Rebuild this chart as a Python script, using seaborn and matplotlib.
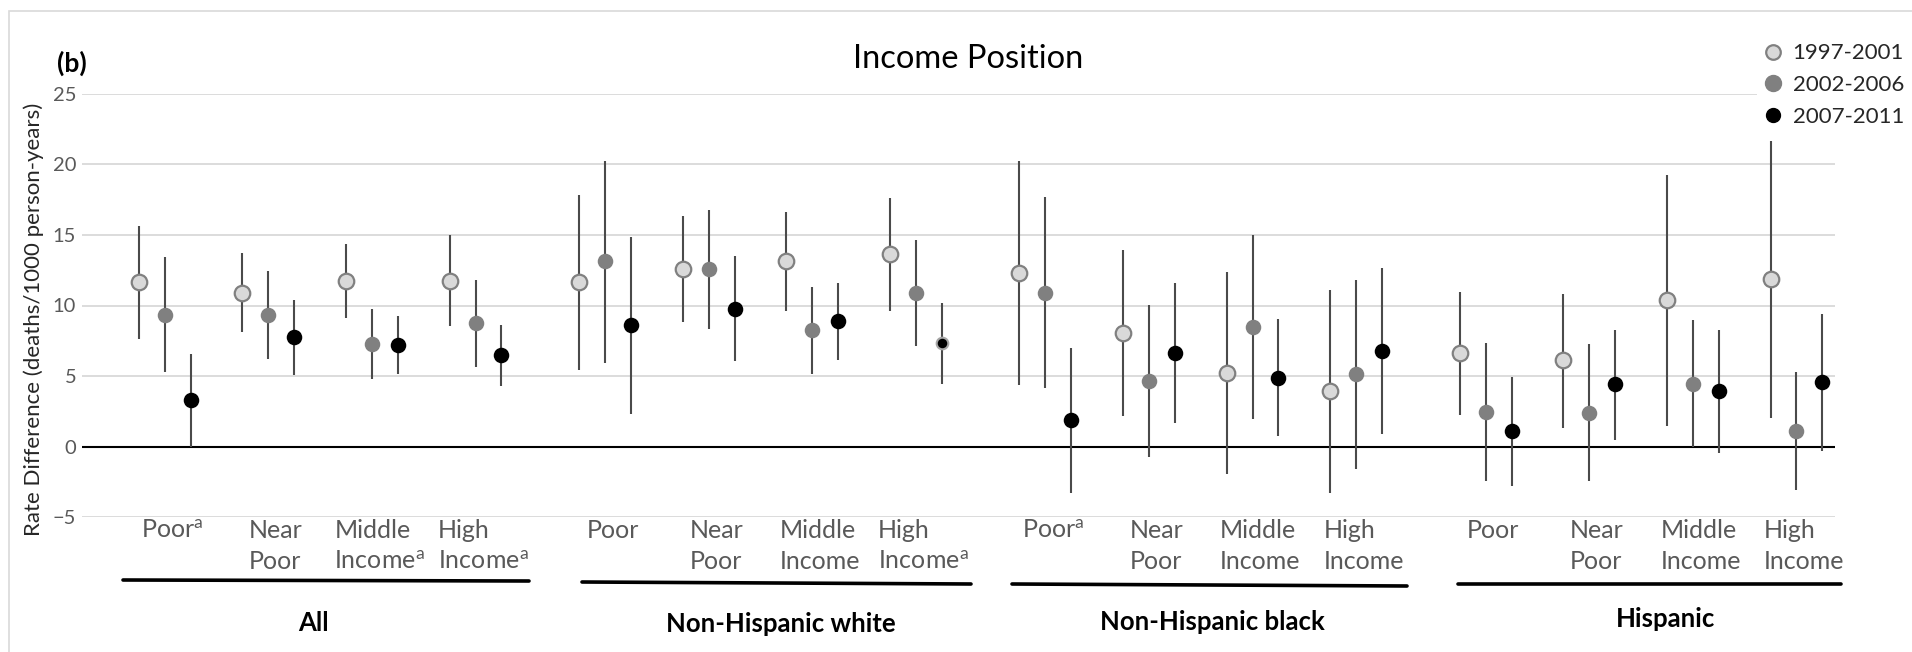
import numpy as np
import pandas as pd
import matplotlib.pyplot as plt
import seaborn as sns
from matplotlib.lines import Line2D
from matplotlib.patches import Rectangle

# ── Data ─────────────────────────────────────────────────────────────────────
groups = ["All", "Non-Hispanic white", "Non-Hispanic black", "Hispanic"]
categories = [
    "Poor$^{\\rm a}$", "Near\nPoor", "Middle\nIncome$^{\\rm a}$", "High\nIncome$^{\\rm a}$",
    "Poor", "Near\nPoor", "Middle\nIncome", "High\nIncome$^{\\rm a}$",
    "Poor$^{\\rm a}$", "Near\nPoor", "Middle\nIncome", "High\nIncome",
    "Poor", "Near\nPoor", "Middle\nIncome", "High\nIncome",
]
periods = ["1997-2001", "2002-2006", "2007-2011"]

rate_1997 = [11.66, 10.91, 11.74, 11.76, 11.66, 12.61, 13.13, 13.63,
             12.30, 8.05, 5.25, 3.94, 6.61, 6.12, 10.42, 11.86]
hi_1997   = [15.63, 13.70, 14.36, 15.02, 17.83, 16.32, 16.62, 17.64,
             20.21, 13.91, 12.40, 11.10, 10.96, 10.84, 19.27, 21.65]
lo_1997   = [7.61, 8.12, 9.12, 8.55, 5.41, 8.86, 9.59, 9.59,
             4.40, 2.15, -1.95, -3.28, 2.22, 1.35, 1.49, 2.03]

rate_2002 = [9.35, 9.35, 7.30, 8.79, 13.13, 12.59, 8.24, 10.86,
             10.91, 4.68, 8.48, 5.15, 2.46, 2.41, 4.47, 1.14]
hi_2002   = [13.41, 12.44, 9.75, 11.83, 20.26, 16.79, 11.31, 14.62,
             17.66, 10.06, 15.02, 11.83, 7.32, 7.27, 8.95, 5.27]
lo_2002   = [5.32, 6.19, 4.82, 5.67, 5.95, 8.31, 5.18, 7.11,
             4.16, -0.73, 1.99, -1.60, -2.43, -2.43, 0.00, -3.04]

rate_2007 = [3.29, 7.77, 7.20, 6.52, 8.60, 9.78, 8.90, 7.34,
             1.89, 6.66, 4.89, 6.80, 1.11, 4.42, 3.94, 4.56]
hi_2007   = [6.59, 10.42, 9.24, 8.65, 14.83, 13.48, 11.62, 10.18,
             6.99, 11.59, 9.07, 12.63, 4.96, 8.29, 8.27, 9.38]
lo_2007   = [0.00, 5.10, 5.15, 4.33, 2.34, 6.05, 6.14, 4.47,
             -3.28, 1.68, 0.74, 0.93, -2.80, 0.50, -0.45, -0.30]

rates = {"1997-2001": rate_1997, "2002-2006": rate_2002, "2007-2011": rate_2007}
his   = {"1997-2001": hi_1997,   "2002-2006": hi_2002,   "2007-2011": hi_2007}
los   = {"1997-2001": lo_1997,   "2002-2006": lo_2002,   "2007-2011": lo_2007}

# ── Long-form table ─────────────────────────────────────────────────────────
rows = []
for s, p in enumerate(periods):
    for c in range(len(categories)):
        g = c // 4
        rows.append({
            "cat": c, "group": groups[g], "period": p,
            "x": 1 + c * 4 + g + s,
            "rate": rates[p][c], "lo": los[p][c], "hi": his[p][c],
        })
df = pd.DataFrame(rows)

# ── Style ───────────────────────────────────────────────────────────────────
sns.set_theme(style="white")
plt.rcParams["font.family"] = ["Lato", "DejaVu Sans"]
plt.rcParams["mathtext.fontset"] = "custom"
plt.rcParams["mathtext.rm"] = "Lato"
plt.rcParams["mathtext.it"] = "Lato:italic"
plt.rcParams["mathtext.bf"] = "Lato:bold"

W, H = 1912, 652
def fx(x): return x / W
def fy(y): return 1 - y / H

fig = plt.figure(figsize=(W / 100, H / 100), dpi=100)
ax = fig.add_axes([fx(81.7), fy(517.3), fx(1835) - fx(81.7), fy(93.7) - fy(517.3)])

# error bars
ax.vlines(df["x"], df["lo"], df["hi"], color="#4a4a4a", lw=1.5, zorder=2)

styles = {
    "1997-2001": dict(color="#d9d9d9", edgecolor="#808080", linewidth=1.6),
    "2002-2006": dict(color="#808080", edgecolor="#808080", linewidth=0),
    "2007-2011": dict(color="#000000", edgecolor="#000000", linewidth=0),
}
small = (df["cat"] == 7) & (df["period"] == "2007-2011")
for p in periods:
    sub = df[(df["period"] == p) & ~small]
    sns.scatterplot(data=sub, x="x", y="rate", s=125, ax=ax, zorder=3,
                    legend=False, **styles[p])
sns.scatterplot(data=df[small], x="x", y="rate", s=70, ax=ax, zorder=3,
                legend=False, color="black", edgecolor="#a6a6a6", linewidth=1.5)

ax.set_xlim(-1.205, 66.49)
ax.set_ylim(-5, 25)
ax.set_yticks([-5, 0, 5, 10, 15, 20, 25])
ax.yaxis.grid(True, color="#d9d9d9", lw=1.3)
ax.xaxis.grid(False)
ax.axhline(0, color="black", lw=1.5, zorder=1)
for sp in ax.spines.values():
    sp.set_visible(False)
ax.set_xlabel("")
ax.set_ylabel("")
ax.tick_params(axis="y", length=0, pad=4, labelsize=14.5, labelcolor="#595959")

centers = [2 + c * 4 + c // 4 + 0.3 for c in range(len(categories))]
ax.set_xticks(centers)
ax.set_xticklabels(categories)
ax.tick_params(axis="x", length=0, pad=1, labelsize=18, labelcolor="#595959")
for lab in ax.get_xticklabels():
    lab.set_multialignment("left")
    lab.set_linespacing(1.45)

# group underlines and labels
underlines = [((123, 580), (529, 581)), ((582, 582), (971, 584)),
              ((1012, 584), (1407, 586)), ((1458, 584), (1841, 584))]
for (x0, y0), (x1, y1) in underlines:
    fig.add_artist(Line2D([fx(x0), fx(x1)], [fy(y0), fy(y1)], color="black",
                          lw=2.6, transform=fig.transFigure))
group_pos = [(313, 630.7), (781, 631.7), (1212.5, 630.0), (1666, 626.7)]
for name, (gx, gy) in zip(groups, group_pos):
    fig.text(fx(gx), fy(gy), name, ha="center", va="baseline",
             fontsize=18.5, fontweight="bold", color="black")

# titles
fig.text(fx(968), fy(67.7), "Income Position", ha="center", va="baseline",
         fontsize=23.5, color="black")
fig.text(fx(57), fy(71.7), "(b)", ha="left", va="baseline",
         fontsize=19, fontweight="bold", color="black")
fig.text(fx(34), fy(319), "Rate Difference (deaths/1000 person-years)",
         rotation=90, ha="center", va="center", fontsize=16, color="#262626")

# legend
handles = [
    Line2D([], [], ls="none", marker="o", markersize=10.5,
           markerfacecolor="#d9d9d9", markeredgecolor="#808080", markeredgewidth=1.6),
    Line2D([], [], ls="none", marker="o", markersize=11.5,
           markerfacecolor="#808080", markeredgecolor="#808080"),
    Line2D([], [], ls="none", marker="o", markersize=10,
           markerfacecolor="black", markeredgecolor="black"),
]
leg = fig.legend(handles, periods, loc="upper left",
                 bbox_to_anchor=(fx(1757), fy(39)), frameon=True,
                 facecolor="white", edgecolor="white", framealpha=1,
                 fontsize=16, handlelength=1.0, handletextpad=0.4,
                 labelspacing=0.52, borderpad=0.2, borderaxespad=0)
leg.get_frame().set_linewidth(0)
leg.set_zorder(5)

# outer chart border
fig.add_artist(Rectangle((fx(9), -0.05), 1.2, fy(11) + 0.05, fill=False,
                         edgecolor="#d9d9d9", lw=1.2, transform=fig.transFigure))

fig.savefig("out.png", dpi=100)
